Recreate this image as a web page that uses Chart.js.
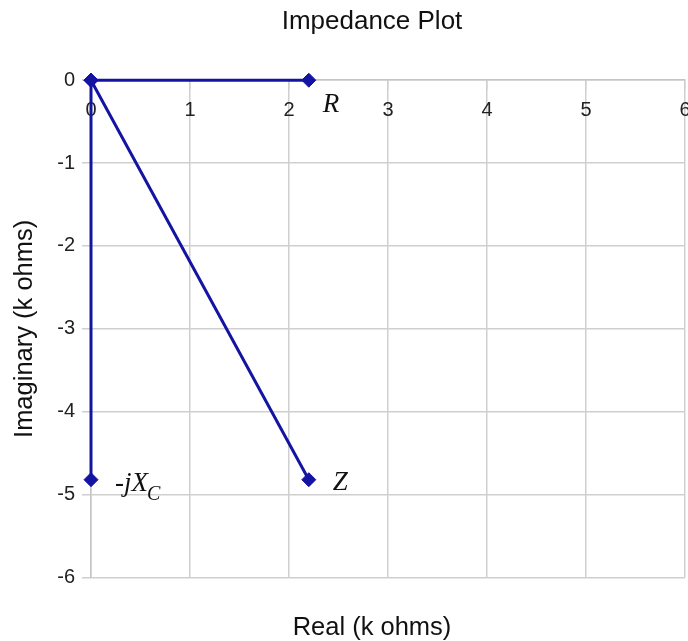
<!DOCTYPE html>
<html>
<head>
<meta charset="utf-8">
<script src="https://cdn.jsdelivr.net/npm/chart.js@4/dist/chart.umd.min.js"></script>
<style>
  body { margin: 0; overflow: hidden; background: #fff; }
  canvas { display: block; }
</style>
</head>
<body>
<canvas id="plot" width="744" height="641"></canvas>
<script>
// phasor names and end points (k ohms), each line starts at the origin
const seriesNames = ["R", "-jX", "Z"];
const startReal = [0, 0, 0];
const startImag = [0, 0, 0];
const endReal = [2.2, 0, 2.2];
const endImag = [0, -4.82, -4.82];
const xTicks = [0, 1, 2, 3, 4, 5, 6];
const yTicks = [-6, -5, -4, -3, -2, -1, 0];

const lineColor = "#1414a2";
const sansFont = "'Liberation Sans', Arial";

const datasets = seriesNames.map((name, i) => ({
    label: name,
    data: [
        { x: startReal[i], y: startImag[i] },
        { x: endReal[i], y: endImag[i] }
    ],
    showLine: true,
    clip: false,
    borderColor: lineColor,
    backgroundColor: lineColor,
    borderWidth: 3,
    pointStyle: "rectRot",
    pointRadius: 7,
    pointHoverRadius: 7,
    pointBorderWidth: 1,
    tension: 0
}));

// writes R, -jXc and Z next to the end of each line
const phasorLabels = {
    id: "phasorLabels",
    afterDatasetsDraw(chart) {
        const ctx = chart.ctx;
        const xs = chart.scales.x;
        const ys = chart.scales.y;
        const offsets = [[14, 25], [24, 4], [24, 3]];
        ctx.save();
        ctx.fillStyle = "#111";
        ctx.textBaseline = "middle";
        ctx.textAlign = "left";
        seriesNames.forEach((name, i) => {
            const px = xs.getPixelForValue(endReal[i]) + offsets[i][0];
            const py = ys.getPixelForValue(endImag[i]) + offsets[i][1];
            ctx.font = "italic 27px 'Liberation Serif'";
            ctx.fillText(name, px, py);
            if (name === "-jX") {
                const w = ctx.measureText(name).width;
                ctx.font = "italic 20px 'Liberation Serif'";
                ctx.fillText("C", px + w - 1, py + 11);
            }
        });
        ctx.restore();
    }
};

new Chart(document.getElementById("plot").getContext("2d"), {
    type: "scatter",
    data: { datasets: datasets },
    plugins: [phasorLabels],
    options: {
        responsive: false,
        animation: false,
        layout: { padding: 0 },
        plugins: {
            legend: { display: false },
            tooltip: { enabled: false },
            title: {
                display: true,
                text: "Impedance Plot",
                color: "#111",
                font: { family: sansFont, size: 26, weight: "normal", lineHeight: 1.2 },
                padding: { top: 6, bottom: 43 }
            },
            subtitle: {
                display: true,
                position: "bottom",
                text: "Real (k ohms)",
                color: "#111",
                font: { family: sansFont, size: 25.5, weight: "normal", lineHeight: 1.0 },
                padding: { top: 38, bottom: 0 }
            }
        },
        scales: {
            x: {
                type: "linear",
                position: { y: 0 },
                min: xTicks[0],
                max: xTicks[xTicks.length - 1],
                afterBuildTicks: (scale) => { scale.ticks = xTicks.map(v => ({ value: v })); },
                ticks: {
                    color: "#222",
                    padding: 9,
                    font: { family: sansFont, size: 20 }
                },
                grid: { color: "#cfcfcf", lineWidth: 1.5, tickLength: 9 },
                border: { color: "#c4c4c4", width: 1.5 }
            },
            y: {
                type: "linear",
                position: "left",
                min: yTicks[0],
                max: yTicks[yTicks.length - 1],
                afterBuildTicks: (scale) => { scale.ticks = yTicks.map(v => ({ value: v })); },
                afterFit: (scale) => { scale.width = 91; },
                ticks: {
                    color: "#222",
                    padding: 7,
                    font: { family: sansFont, size: 20 }
                },
                grid: { color: "#cfcfcf", lineWidth: 1.5, tickLength: 9 },
                border: { color: "#c4c4c4", width: 1.5 },
                title: {
                    display: true,
                    text: "Imaginary (k ohms)",
                    color: "#111",
                    font: { family: sansFont, size: 25.5, lineHeight: 1.2 },
                    padding: { top: 10, bottom: 0 }
                }
            },
            // empty axis that keeps space on the right, past the window edge
            spare: {
                type: "linear",
                position: "right",
                ticks: { display: false },
                grid: { display: false },
                border: { display: false },
                afterFit: (scale) => { scale.width = 59; }
            }
        }
    }
});
</script>
</body>
</html>
